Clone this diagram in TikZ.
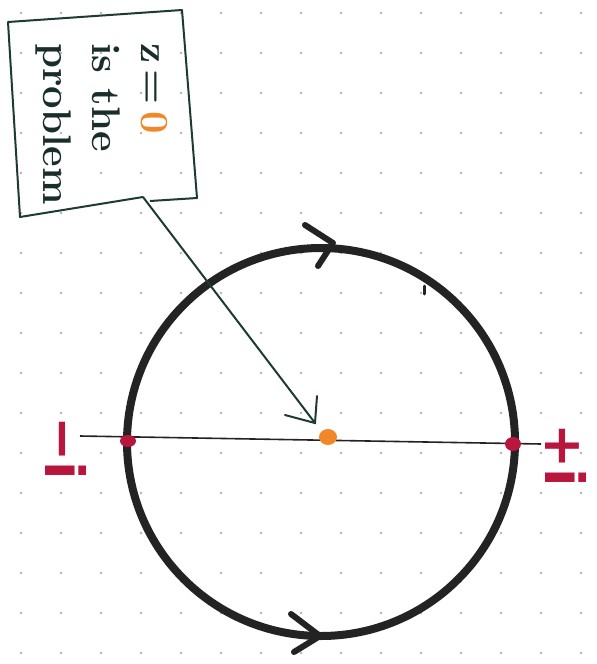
\documentclass[tikz,border=0pt]{standalone}
\usepackage{fontspec}
\newfontfamily\labfont{DejaVu Sans}
\definecolor{ink}{HTML}{232323}
\definecolor{pen}{HTML}{1F3A34}
\definecolor{redmark}{HTML}{B8163C}
\definecolor{orangemark}{HTML}{F0882A}
\tikzset{
  gridot/.style={fill=black!30, draw=none},
  contour/.style={draw=ink, line width=8pt},
  chevron/.style={draw=ink, line width=6pt, line cap=round, line join=round},
  axisline/.style={draw=ink, line width=1.6pt},
  boxline/.style={draw=pen, line width=2pt, line join=round},
  pointer/.style={draw=pen, line width=2pt, line cap=round},
  redlabel/.style={text=redmark, font=\labfont\bfseries\fontsize{54}{54}\selectfont, rotate=-90, inner sep=0pt},
  note/.style={text=pen!80!black, font=\bfseries\fontsize{40}{49}\selectfont, rotate=-90, align=left, inner sep=0pt}
}
\begin{document}
\begin{tikzpicture}[x=1pt, y=-1pt]
\useasboundingbox (0,0) rectangle (597,664);
\fill[white] (0,0) rectangle (597,664);
% dot grid
\foreach \gx in {21,61,...,581}{
  \foreach \gy in {13,53,...,653}{
    \fill[gridot] (\gx,\gy) circle (1.3pt);
  }
}
% circle contour
\coordinate (O) at (321,442);
\draw[contour] (O) circle (194pt);
% direction chevrons
\coordinate (topA) at (305,225);
\coordinate (topT) at (333,243);
\coordinate (topB) at (318,266);
\draw[chevron] (topA) -- (topT) -- (topB);
\coordinate (botA) at (291,614);
\coordinate (botT) at (320,636);
\coordinate (botB) at (294,652);
\draw[chevron] (botA) -- (botT) -- (botB);
% small tick on contour
\coordinate (tk1) at (424,286);
\coordinate (tk2) at (424,294);
\draw[ink, line width=3pt, line cap=round] (tk1) -- (tk2);
% horizontal line
\coordinate (L) at (80,436);
\coordinate (R) at (541,444);
\draw[axisline] (L) -- (R);
% intersection marks
\coordinate (pL) at (128,441);
\coordinate (pR) at (513,444);
\fill[redmark] (pL) ellipse (8pt and 6pt);
\fill[redmark] (pR) ellipse (8pt and 7pt);
% origin blob
\coordinate (Z) at (328,437);
\fill[orangemark] (Z) ellipse (9pt and 8pt);
% labels
\node[redlabel] (mi) at (66,448) {−i};
\node[redlabel] (pi) at (566,455) {+i};
% note box
\coordinate (b1) at (8,22);
\coordinate (b2) at (182,10);
\coordinate (b3) at (197,198);
\coordinate (b4) at (150,201);
\coordinate (b5) at (143,197);
\coordinate (b6) at (20,217);
\draw[boxline] (b5) -- (b6) -- (b1) -- (b2) -- (b3) -- (b4);
\node[note] (txt) at (102,124) {z\,=\,\textcolor{orangemark}{0}\\is the\\problem};
% pointer
\coordinate (tip) at (315,423);
\coordinate (h1) at (285,415);
\coordinate (h2) at (317,396);
\draw[pointer] (b5) -- (tip);
\draw[pointer] (h1) -- (tip) -- (h2);
\end{tikzpicture}
\end{document}
